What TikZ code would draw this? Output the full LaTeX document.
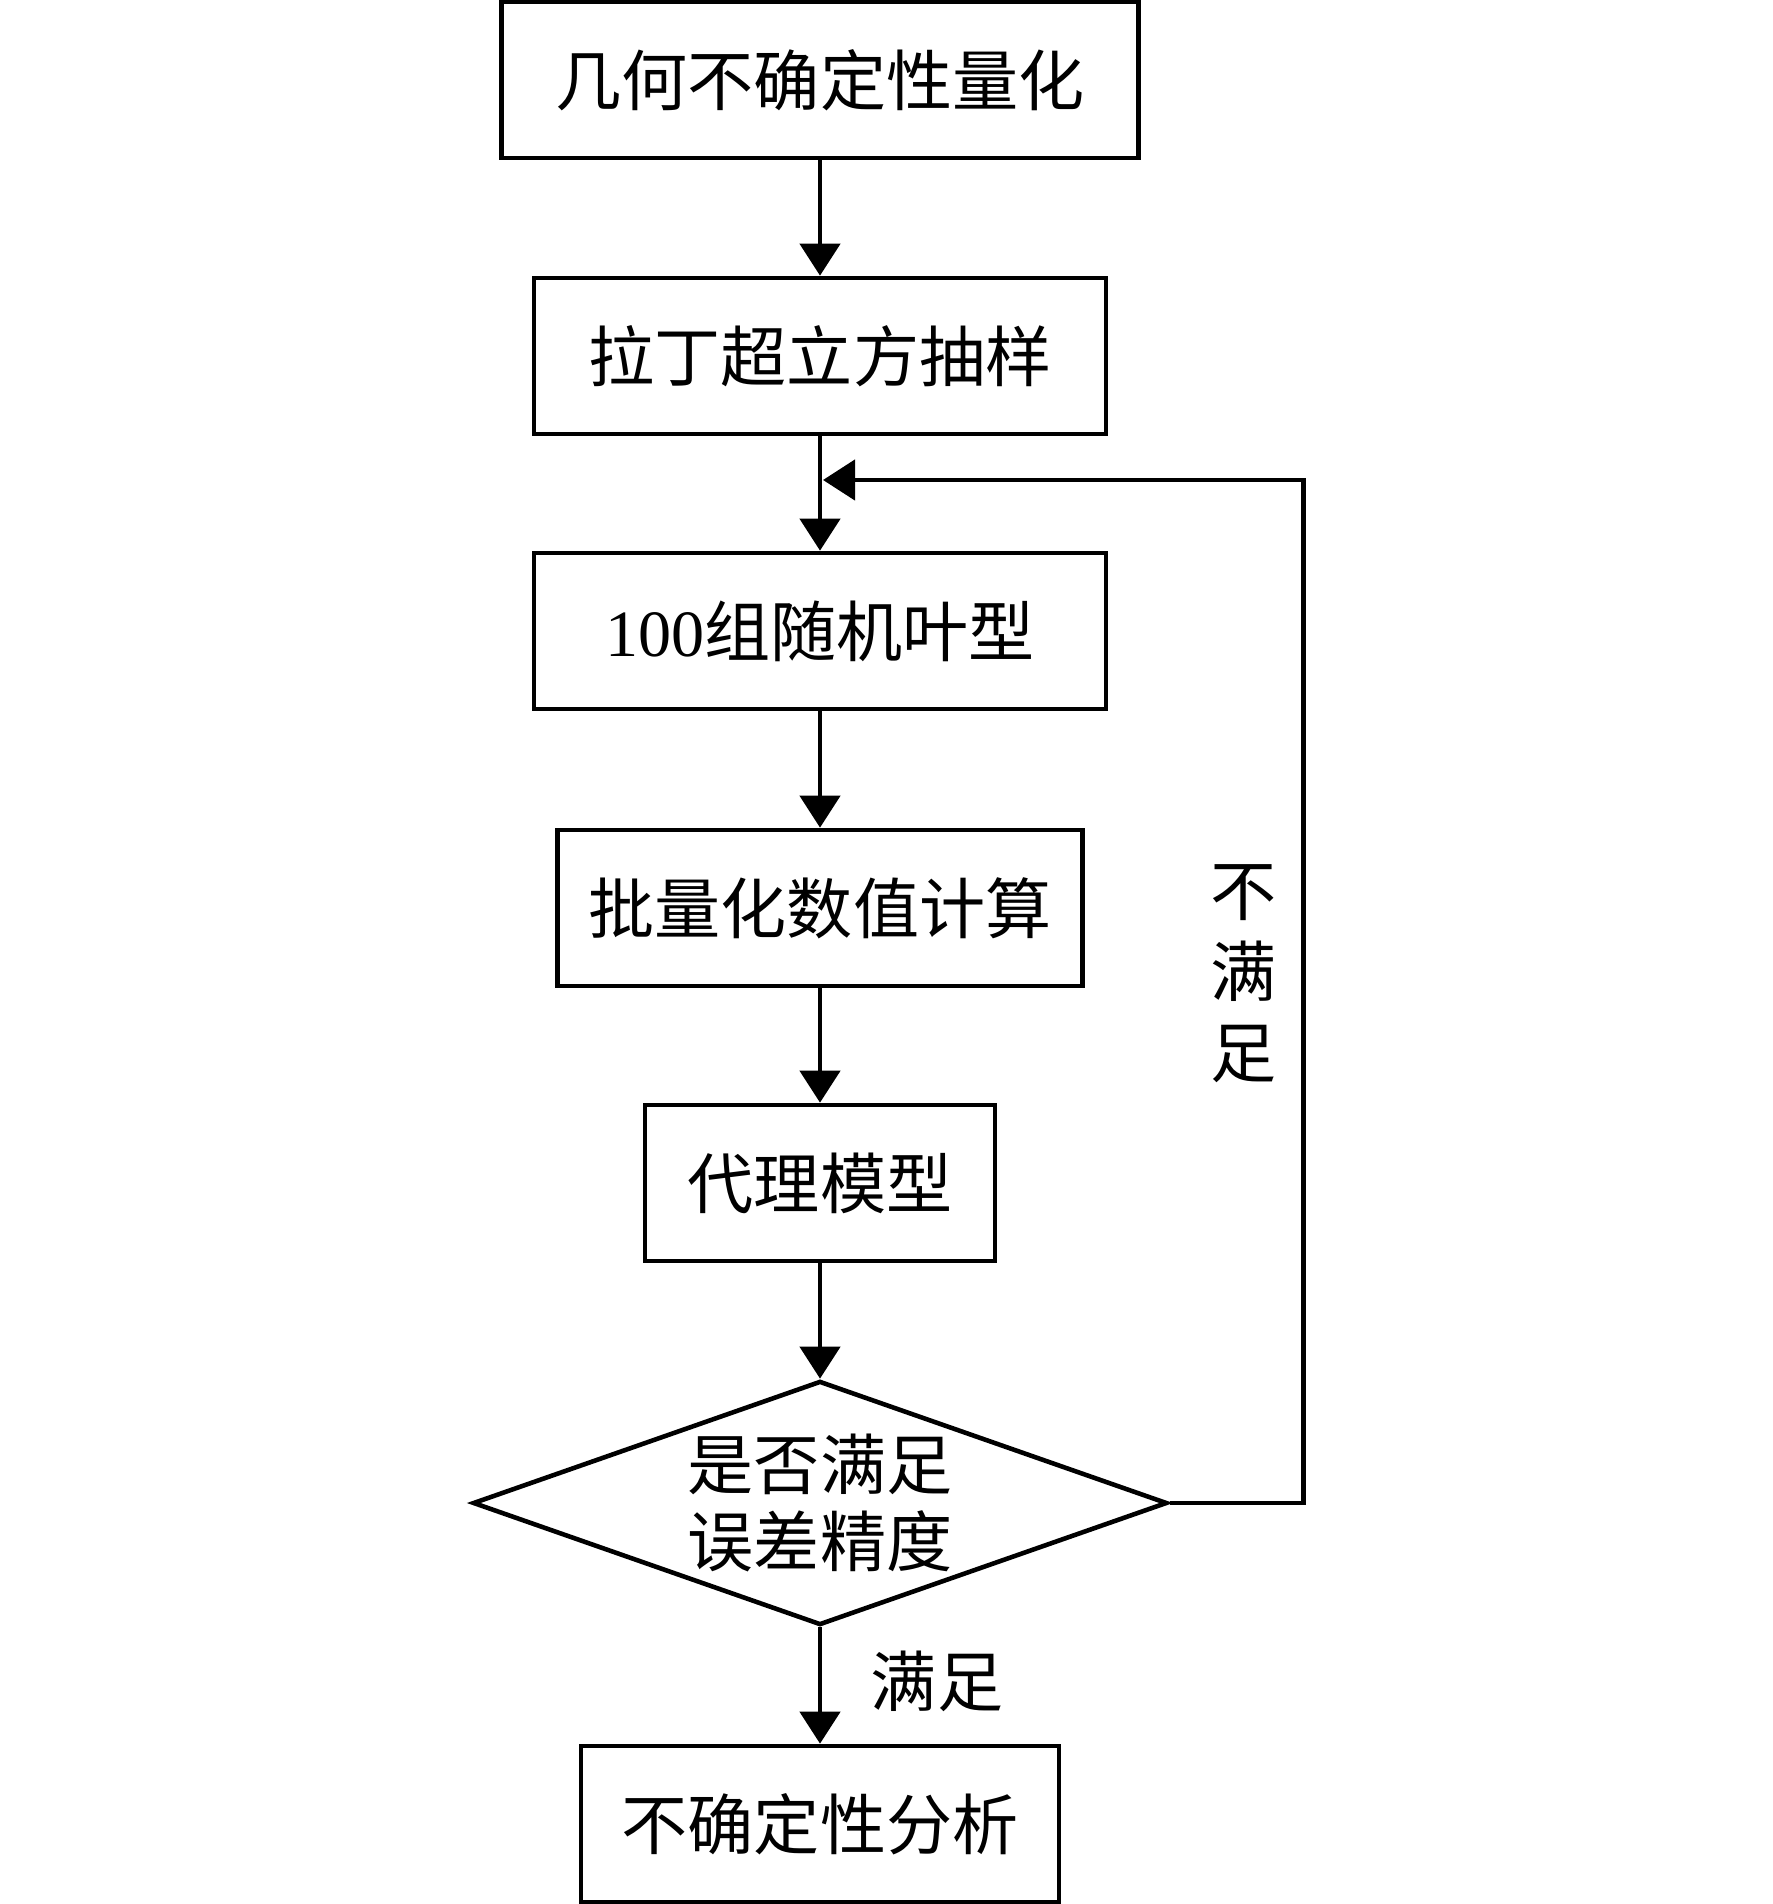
\documentclass[tikz,border=0pt]{standalone}
\usepackage{fontspec}
\setmainfont{Liberation Serif}
\newfontfamily\cjk{Noto Sans CJK SC}
\usetikzlibrary{shapes,arrows.meta,positioning}

\begin{document}
\begin{tikzpicture}
[x=0.01cm, y=-0.01cm, line width=1.3pt,
  mybox/.style={rectangle, draw=black, minimum height=1.56cm, inner sep=0pt, font=\cjk\fontsize{18.8}{22}\selectfont},
  mydecision/.style={diamond, draw=black, minimum width=6.94cm, minimum height=2.44cm, inner sep=0pt},
  mytext/.style={align=center, inner sep=0pt, font=\cjk\fontsize{18.8}{21.8}\selectfont},
  myarrow/.style={-{Triangle[length=3.2mm, width=4mm]}}
]
  \useasboundingbox (0,0) rectangle (1772,1904);

  \node[mybox, minimum width=6.37cm] (quantify) at (820,80) {几何不确定性量化};
  \node[mybox, minimum width=5.72cm] (sampling) at (820,356) {拉丁超立方抽样};
  \node[mybox, minimum width=5.72cm] (blades) at (820,631) {{\rmfamily 100}组随机叶型};
  \node[mybox, minimum width=5.25cm] (batch) at (820,908) {批量化数值计算};
  \node[mybox, minimum width=3.50cm] (surrogate) at (820,1183) {代理模型};
  \node[mydecision] (check) at (820,1503) {};
  \node[mytext] (checktext) at (check) {是否满足\\误差精度};
  \node[mybox, minimum width=4.78cm] (analysis) at (820,1824) {不确定性分析};

  \node[mytext] (yes) at (937,1681) {满足};
  \node[mytext, font=\cjk\fontsize{18.8}{23}\selectfont] (no) at (1244,974) {不\\满\\足};

  \draw[myarrow] (quantify) -- (sampling);
  \draw[myarrow] (sampling) -- (blades);
  \draw[myarrow] (blades) -- (batch);
  \draw[myarrow] (batch) -- (surrogate);
  \draw[myarrow] (surrogate) -- (check);
  \draw[myarrow] (check) -- (analysis);

  \coordinate (join) at (823,480);
  \draw[myarrow] (check.east) -- ++(134,0) |- (join);
\end{tikzpicture}
\end{document}
